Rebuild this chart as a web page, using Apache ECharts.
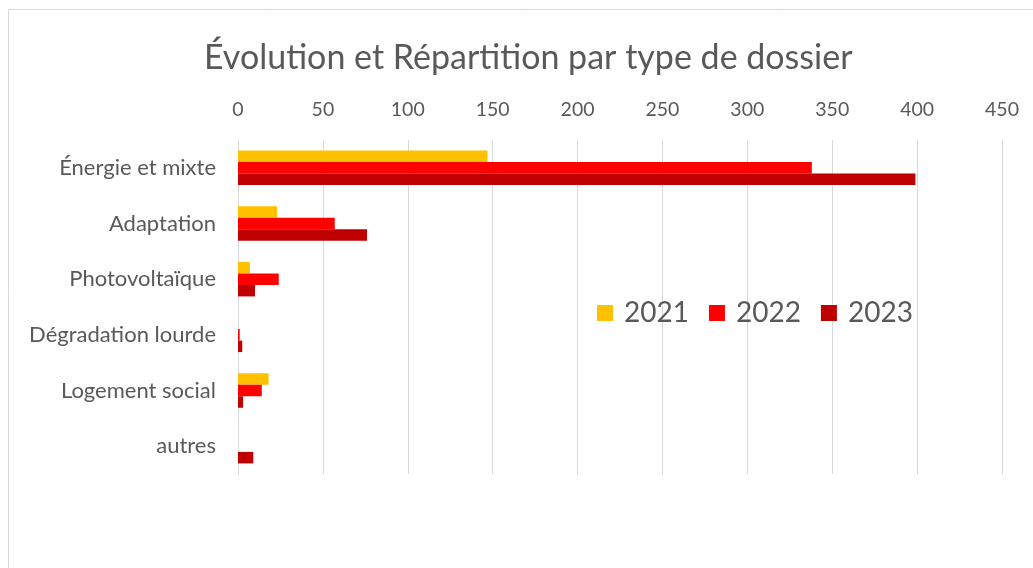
<!DOCTYPE html>
<html style="height: 100%">
<head>
<meta charset="utf-8">
</head>
<body style="height: 100%; margin: 0">
<div id="container" style="width: 1033px; height: 568px"></div>
<script type="text/javascript" src="https://cdn.jsdelivr.net/npm/echarts@6/dist/echarts.min.js"></script>
<script type="text/javascript">
var categories = ['Énergie et mixte', 'Adaptation', 'Photovoltaïque', 'Dégradation lourde', 'Logement social', 'autres'];
var years = ['2021', '2022', '2023'];
var values2021 = [147, 23, 7, 0, 18, 0];
var values2022 = [338, 57, 24, 1, 14, 0];
var values2023 = [399, 76, 10, 2.5, 3, 9];
var colors = ['#FFC000', '#FF0000', '#C00000'];

var dom = document.getElementById('container');
var myChart = echarts.init(dom);
var font = 'Lato, Open Sans, sans-serif';

var seriesData = [values2021, values2022, values2023];
var series = years.map(function (y, i) {
    return {
        name: y,
        type: 'bar',
        data: seriesData[i],
        barWidth: 11.5,
        barGap: 0,
        itemStyle: { color: colors[i] }
    };
});

var option = {
    animation: false,
    title: {
        text: 'Évolution et Répartition par type de dossier',
        left: 199,
        top: 36,
        textStyle: { fontFamily: font, fontSize: 34, fontWeight: 'normal', color: '#595959' }
    },
    legend: {
        data: years,
        left: 592,
        top: 294,
        itemWidth: 16,
        itemHeight: 16,
        itemGap: 20,
        icon: 'rect',
        textStyle: { fontFamily: font, fontSize: 28, color: '#595959', padding: [0, 0, 0, 6] }
    },
    graphic: [{
        type: 'rect',
        shape: { x: 8.5, y: 9.5, width: 1040, height: 580 },
        style: { fill: 'none', stroke: '#d9d9d9', lineWidth: 1 }
    }],
    grid: { left: 238, right: 31, top: 140, bottom: 94 },
    xAxis: {
        type: 'value',
        position: 'top',
        min: 0,
        max: 450,
        interval: 50,
        axisLine: { show: false },
        axisTick: { show: false },
        axisLabel: { fontFamily: font, fontSize: 19.5, color: '#595959', margin: 20 },
        splitLine: { lineStyle: { color: '#d9d9d9' } }
    },
    yAxis: {
        type: 'category',
        inverse: true,
        data: categories,
        axisLine: { show: false },
        axisTick: { show: false },
        axisLabel: { fontFamily: font, fontSize: 22, color: '#595959', margin: 22 }
    },
    series: series
};
myChart.setOption(option);
</script>
</body>
</html>
